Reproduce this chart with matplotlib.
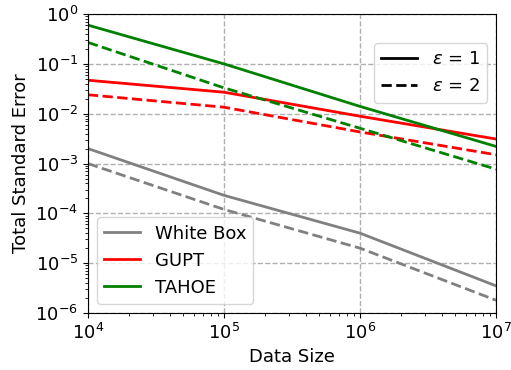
import numpy as np
import matplotlib
matplotlib.use('Agg')
from matplotlib import pyplot as plt
from matplotlib.lines import Line2D

sizes = [1e4, 1e5, 1e6, 1e7]

# eps = 1 (solid) and eps = 2 (dashed)
whitebox_e1 = [2.0e-3, 2.3e-4, 4.0e-5, 3.5e-6]
whitebox_e2 = [1.0e-3, 1.2e-4, 2.0e-5, 1.8e-6]
gupt_e1 = [0.047, 0.027, 0.0089, 0.0031]
gupt_e2 = [0.024, 0.0135, 0.0043, 0.0015]
tahoe_e1 = [0.6, 0.1, 0.014, 0.0022]
tahoe_e2 = [0.27, 0.033, 0.0051, 0.00077]

plt.rcParams['font.size'] = 13

fig = plt.figure(figsize=(5.11, 3.7), dpi=100)
ax = fig.add_subplot(111)
fig.subplots_adjust(left=0.172, right=0.971, top=0.962, bottom=0.154)

ax.plot(sizes, whitebox_e1, color='gray', lw=2, label='White Box')
ax.plot(sizes, whitebox_e2, color='gray', lw=2, ls='--')
ax.plot(sizes, gupt_e1, color='red', lw=2, label='GUPT')
ax.plot(sizes, gupt_e2, color='red', lw=2, ls='--')
ax.plot(sizes, tahoe_e1, color='green', lw=2, label='TAHOE')
ax.plot(sizes, tahoe_e2, color='green', lw=2, ls='--')

ax.set_xscale('log')
ax.set_yscale('log')
ax.set_xlim(1e4, 1e7)
ax.set_ylim(1e-6, 1e0)
ax.grid(True, ls='--', color='#b0b0b0', lw=1)
ax.set_xlabel('Data Size')
ax.set_ylabel('Total Standard Error')

leg1 = ax.legend(loc='lower left')
ax.add_artist(leg1)
style_handles = [Line2D([], [], color='black', lw=2),
                 Line2D([], [], color='black', lw=2, ls='--')]
ax.legend(style_handles, [r'$\epsilon$ = 1', r'$\epsilon$ = 2'],
          loc='upper right', bbox_to_anchor=(1.0, 0.933))

fig.savefig('out.png', dpi=100)
